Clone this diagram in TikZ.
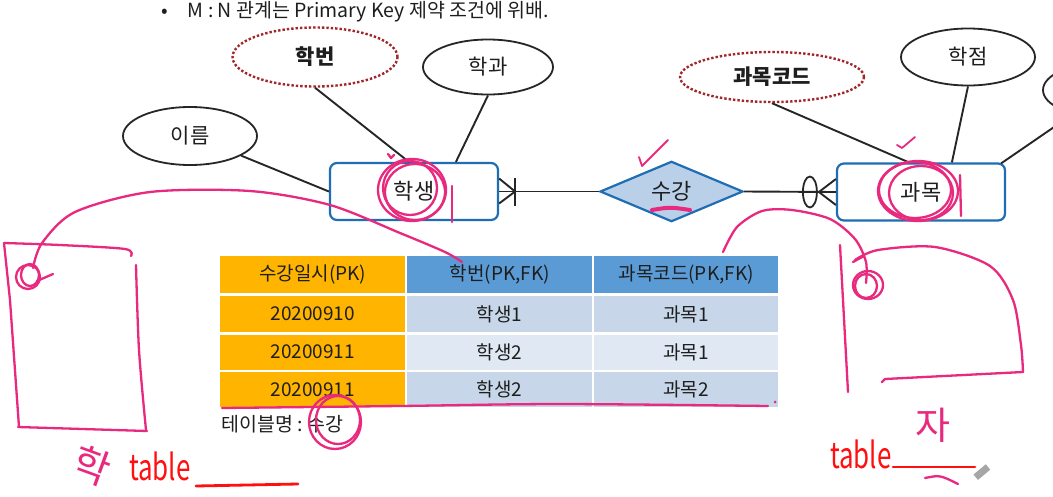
\documentclass[tikz,border=0pt]{standalone}
\usepackage{fontspec}
\setmainfont{Noto Sans CJK KR}
\usetikzlibrary{shapes.geometric}
\definecolor{ebl}{HTML}{1F6DB2}
\definecolor{dfill}{HTML}{B9D0E8}
\definecolor{kred}{HTML}{A0282A}
\definecolor{ink}{HTML}{E8297E}
\definecolor{hred}{HTML}{FF1010}
\definecolor{torg}{HTML}{FFB400}
\definecolor{thd}{HTML}{5B9BD5}
\definecolor{tr1}{HTML}{C7D6E8}
\definecolor{tr2}{HTML}{E0E9F3}
\definecolor{txt}{HTML}{1E1E1E}
\tikzset{
  attr/.style={ellipse, draw=black!85, line width=1.8pt, inner sep=0pt, font=\fontsize{21}{24}\selectfont, text=txt},
  keyattr/.style={ellipse, draw=kred, dotted, line width=2.4pt, inner sep=0pt, font=\fontsize{21}{24}\selectfont\bfseries, text=txt},
  entity/.style={rectangle, rounded corners=7pt, draw=ebl, line width=2.2pt, fill=white, minimum width=168pt, minimum height=57pt, inner sep=0pt, font=\fontsize{22}{25}\selectfont, text=txt},
  rel/.style={diamond, draw=ebl, line width=2.2pt, fill=dfill, minimum width=143pt, minimum height=57pt, inner sep=0pt, font=\fontsize{22}{25}\selectfont, text=txt},
  conn/.style={draw=black!85, line width=1.9pt},
  cell/.style={rectangle, anchor=north west, inner sep=0pt, font=\fontsize{19}{22}\selectfont, text=txt},
  pen/.style={draw=ink, line width=2.3pt, line cap=round, line join=round},
  rpen/.style={draw=hred, line width=2.8pt, line cap=round, line join=round},
  hand/.style={inner sep=0pt, anchor=base west, xscale=0.72, font=\fontsize{36}{38}\selectfont},
}
\begin{document}
\begin{tikzpicture}[x=1pt,y=-1pt]
\useasboundingbox (0,0) rectangle (1053,496);
\fill[white] (0,0) rectangle (1053,496);

% top text (cut off in the reference)
\node[anchor=base west, inner sep=0pt, font=\fontsize{19.5}{22}\selectfont, text=txt] (title) at (161,17.5) {•\hspace{20pt}M : N 관계는 Primary Key 제약 조건에 위배.};

% entities and relationship
\node[entity] (s) at (414,191.5) {학생};
\node[entity] (k) at (921,192) {과목};
\node[rel] (r) at (671.5,191.5) {수강};

% attributes
\node[keyattr, minimum width=165pt, minimum height=59pt] (hb) at (315,57) {학번};
\node[attr, minimum width=130pt, minimum height=55pt] (hg) at (488,67) {학과};
\node[attr, minimum width=134pt, minimum height=58pt] (im) at (190,136) {이름};
\node[keyattr, minimum width=184pt, minimum height=50pt] (kc) at (772,77) {과목코드};
\node[attr, minimum width=134pt, minimum height=57pt] (hj) at (968,57) {학점};
\node[attr, minimum width=130pt, minimum height=56pt] (ex) at (1108,90) {};

\draw[conn] (hb.south) -- ([xshift=80pt]s.north west);
\draw[conn] (hg.south) -- ([xshift=127pt]s.north west);
\draw[conn] (im.-21) -- (s.west);
\draw[conn] (kc.south) -- ([xshift=73pt]k.north west);
\draw[conn] (hj.south) -- ([xshift=116pt]k.north west);
\draw[conn] ([xshift=-5pt,yshift=-1pt]k.north east) -- (ex);

% relationship lines with crow's feet
\draw[conn] (s.east) -- (r.west);
\coordinate (cs) at ([xshift=16pt]s.east);
\draw[conn] (cs) -- ([yshift=-12pt]s.east);
\draw[conn] (cs) -- ([yshift=13pt]s.east);
\draw[conn] ([yshift=-14pt]cs) -- ([yshift=14pt]cs);
\draw[conn] (r.east) -- (k.west);
\coordinate (ck) at ([xshift=-17pt]k.west);
\draw[conn] (ck) -- ([yshift=-13pt]k.west);
\draw[conn] (ck) -- ([yshift=13pt]k.west);
\node[ellipse, draw=black!85, line width=1.8pt, minimum width=14pt, minimum height=31pt, inner sep=0pt] (ko) at ([xshift=-26pt]k.west) {};

% table
\node[cell, fill=torg, minimum width=185pt, minimum height=37pt] (h1) at (220,256) {수강일시(PK)};
\node[cell, fill=thd, minimum width=185pt, minimum height=37pt] (h2) at (407,256) {학번(PK,FK)};
\node[cell, fill=thd, minimum width=184pt, minimum height=37pt] (h3) at (594,256) {과목코드(PK,FK)};
\node[cell, fill=torg, minimum width=185pt, minimum height=36pt] (a1) at (220,296) {20200910};
\node[cell, fill=tr1, minimum width=185pt, minimum height=36pt] (b1) at (407,296) {학생1};
\node[cell, fill=tr1, minimum width=184pt, minimum height=36pt] (c1) at (594,296) {과목1};
\node[cell, fill=torg, minimum width=185pt, minimum height=35pt] (a2) at (220,334.5) {20200911};
\node[cell, fill=tr2, minimum width=185pt, minimum height=35pt] (b2) at (407,334.5) {학생2};
\node[cell, fill=tr2, minimum width=184pt, minimum height=35pt] (c2) at (594,334.5) {과목1};
\node[cell, fill=torg, minimum width=185pt, minimum height=35pt] (a3) at (220,372) {20200911};
\node[cell, fill=tr1, minimum width=185pt, minimum height=35pt] (b3) at (407,372) {학생2};
\node[cell, fill=tr1, minimum width=184pt, minimum height=35pt] (c3) at (594,372) {과목2};
\node[anchor=base west, inner sep=0pt, font=\fontsize{19.5}{22}\selectfont, text=txt] (tn) at (221,431) {테이블명\hspace{5pt}:\hspace{4pt}수강};

% ---- handwritten ink ----
% circles on entities
\draw[pen] (412,190) ellipse [x radius=34pt, y radius=31pt];
\draw[pen] (415,192) ellipse [x radius=30pt, y radius=28pt];
\draw[pen] (410,188) ellipse [x radius=27pt, y radius=27pt];
\draw[pen] (452,186) -- (452,222);
\draw[pen] (388,154) -- (391,158) -- (394,155);
\draw[pen] (918,191) ellipse [x radius=40pt, y radius=30pt];
\draw[pen] (915,190) ellipse [x radius=36pt, y radius=28pt];
\draw[pen] (921,193) ellipse [x radius=32pt, y radius=27pt];
\draw[pen] (960,175) -- (961,216);
% checks
\draw[pen, line width=1.8pt] (639,157) -- (642,166) -- (668,140);
\draw[pen, line width=1.8pt] (897,145) -- (902,148) -- (915,137);
% underline in diamond
\draw[draw=ink, line width=4pt, line cap=round] (652,210) .. controls (670,207) .. (690,210);
% left curve and box
\draw[pen] plot[smooth] coordinates {(33,268) (42,243) (75,212) (150,192) (250,191) (330,205) (400,233) (445,252) (462,262)};
\draw[pen] (28,277) ellipse [x radius=12pt, y radius=12pt];
\draw[pen] (30,275) ellipse [x radius=9pt, y radius=11pt];
\draw[pen] (37,281) -- (53,274);
\draw[pen] plot[smooth] coordinates {(4,243) (60,245) (125,249) (131,256)};
\draw[pen] (4,243) -- (10,300) -- (19,427);
\draw[pen] plot[smooth] coordinates {(136,265) (139,350) (146,430)};
\draw[pen] (18,427) -- (147,431);
% table underline and name circle
\draw[pen] plot[smooth] coordinates {(222,408) (400,406) (560,404) (768,406)};
\fill[ink] (775,402) circle (1.5pt);
\draw[pen] (335,422) ellipse [x radius=26pt, y radius=27pt];
\draw[pen] (338,420) ellipse [x radius=22pt, y radius=24pt];
% right curve and box
\draw[pen] plot[smooth] coordinates {(723,252) (737,227) (762,211) (792,210) (830,219) (855,239) (866,262) (866,283)};
\draw[pen] (868,285) ellipse [x radius=15pt, y radius=14pt];
\draw[pen] (866,286) ellipse [x radius=11pt, y radius=12pt];
\draw[pen] (853,262) -- (864,256);
\draw[pen] (840,245) -- (848,392);
\draw[pen] plot[smooth] coordinates {(855,260) (878,250) (935,247) (990,266) (1013,300) (1021,345) (1023,372)};
\draw[pen] (1023,372) -- (885,379) -- (882,382);
% handwritten words
\node[text=ink, font=\fontsize{40}{42}\selectfont, rotate=-20, inner sep=0pt] (wl) at (92,466) {학};
\node[hand, text=hred] (tl) at (129,480) {table};
\draw[rpen] (196,486) -- (298,484);
\node[hand, text=hred] (tr) at (830,468) {table};
\draw[rpen] (893,467) -- (975,467);
\node[text=ink, font=\fontsize{38}{40}\selectfont, inner sep=0pt] (wr) at (933,425) {자};
\draw[pen] (925,478) .. controls (940,475) .. (958,484);
\fill[gray!70, rotate around={40:(980,473)}] (974,470) rectangle (990,477);
\end{tikzpicture}
\end{document}
